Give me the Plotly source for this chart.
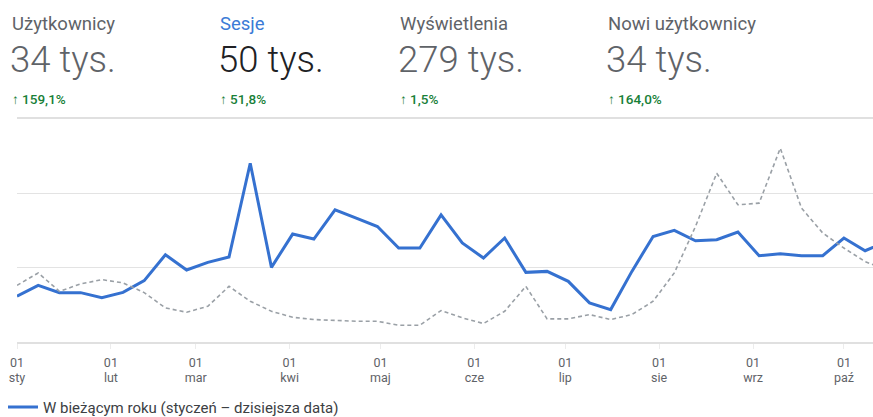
import pandas as pd
import plotly.graph_objects as go

# ---------------- data ----------------
week_start = "2023-01-01"
n_weeks = 42
weeks = pd.date_range(week_start, periods=n_weeks, freq="7D")

sessions_current = [615, 762, 664, 664, 597, 668, 826, 1174, 969, 1071,
                    1144, 2405, 1004, 1452, 1385, 1779, 1667, 1554, 1264, 1264,
                    1711, 1332, 1130, 1399, 937, 950, 816, 526, 436, 950,
                    1420, 1501, 1362, 1376, 1479, 1161, 1188, 1161, 1161, 1399,
                    1228, 1349]
sessions_previous = [762, 929, 682, 781, 839, 795, 664, 459, 400, 481,
                     749, 548, 413, 333, 302, 289, 279, 279, 226, 226,
                     423, 325, 248, 413, 749, 311, 311, 369, 302, 369,
                     548, 929, 1554, 2271, 1846, 1868, 2607, 1801, 1466, 1264,
                     1081, 973]

month_ticks = pd.date_range("2023-01-01", periods=10, freq="MS")
day_labels = ["01"] * 10
month_names = ["sty", "lut", "mar", "kwi", "maj", "cze", "lip", "sie", "wrz", "paź"]

kpi_titles = ["Użytkownicy", "Sesje", "Wyświetlenia", "Nowi użytkownicy"]
kpi_values = ["34 tys.", "50 tys.", "279 tys.", "34 tys."]
kpi_changes = ["159,1%", "51,8%", "1,5%", "164,0%"]
legend_label = "W bieżącym roku (styczeń – dzisiejsza data)"

y_grid = [0, 1000, 2000, 3000]

# ---------------- layout helpers ----------------
W, H = 873, 417
L, R, T, B = 17, 0, 119, 74.5
pw, ph = W - L - R, H - T - B


def px(x):
    return (x - L) / pw


def py(y):
    return (H - B - y) / ph


FONT = "Roboto, Arial, sans-serif"
BLUE = "#3571d0"

fig = go.Figure()
fig.add_trace(go.Scatter(
    x=weeks, y=sessions_previous, mode="lines", xaxis="x2", yaxis="y",
    line=dict(color="#9aa0a6", width=1.6, dash="4px,3px"),
    showlegend=False, hoverinfo="skip"))
fig.add_trace(go.Scatter(
    x=weeks, y=sessions_current, mode="lines",
    line=dict(color=BLUE, width=3),
    name=legend_label))

x_end = pd.Timestamp(week_start) + pd.Timedelta(days=282.6)
x_range = [pd.Timestamp(week_start), x_end]

fig.update_layout(
    xaxis=dict(
        range=x_range, type="date",
        tickvals=month_ticks, ticktext=day_labels,
        showgrid=False, showline=True, mirror=True, linecolor="#e0e0e0", linewidth=1.5,
        ticks="outside", ticklen=5, tickcolor="#ececec",
        tickfont=dict(family=FONT, size=12.5, color="#5f6368"),
        ticklabelstandoff=3,
        zeroline=False,
    ),
    xaxis2=dict(
        range=x_range, type="date", matches="x", overlaying="x", anchor="y", side="bottom",
        tickvals=month_ticks, ticktext=month_names,
        showgrid=False, showline=False, ticks="",
        tickfont=dict(family=FONT, size=12.5, color="#5f6368"),
        ticklabelstandoff=26,
        zeroline=False,
    ),
    yaxis=dict(
        range=[0, 3000], tickvals=y_grid, showticklabels=False,
        showgrid=True, gridcolor="#e3e3e3", gridwidth=1.2, zeroline=False,
    ),
)

cols_x = [10, 218, 398, 606]
ann = []
for i, (t, v, c) in enumerate(zip(kpi_titles, kpi_values, kpi_changes)):
    sel = (i == 1)
    ann.append(dict(x=px(cols_x[i]), y=py(24), text=t, showarrow=False,
                    xref="paper", yref="paper", xanchor="left", yanchor="middle",
                    font=dict(family=FONT, size=18.5,
                              color="#3b7bd6" if sel else "#5f6368")))
    ann.append(dict(x=px(cols_x[i] - 2), y=py(59), text=v, showarrow=False,
                    xref="paper", yref="paper", xanchor="left", yanchor="middle",
                    font=dict(family=FONT, size=36.5, weight=300,
                              color="#202124" if sel else "#5f6368")))
    ann.append(dict(x=px(cols_x[i]), y=py(99), text="↑ " + c, showarrow=False,
                    xref="paper", yref="paper", xanchor="left", yanchor="middle",
                    font=dict(family=FONT, size=13.5, weight=500, color="#188038")))

fig.update_layout(
    width=W, height=H,
    margin=dict(l=L, r=R, t=T, b=B, autoexpand=False),
    paper_bgcolor="white", plot_bgcolor="white",
    annotations=ann,
    showlegend=True,
    legend=dict(orientation="h", x=px(3), y=py(408), xanchor="left", yanchor="middle",
                font=dict(family=FONT, size=15, color="#3c4043"),
                bgcolor="rgba(0,0,0,0)", borderwidth=0),
)

fig.write_html("out.html", config={"displayModeBar": False},
               post_script="document.body.style.margin='0';document.body.style.overflow='hidden';")
